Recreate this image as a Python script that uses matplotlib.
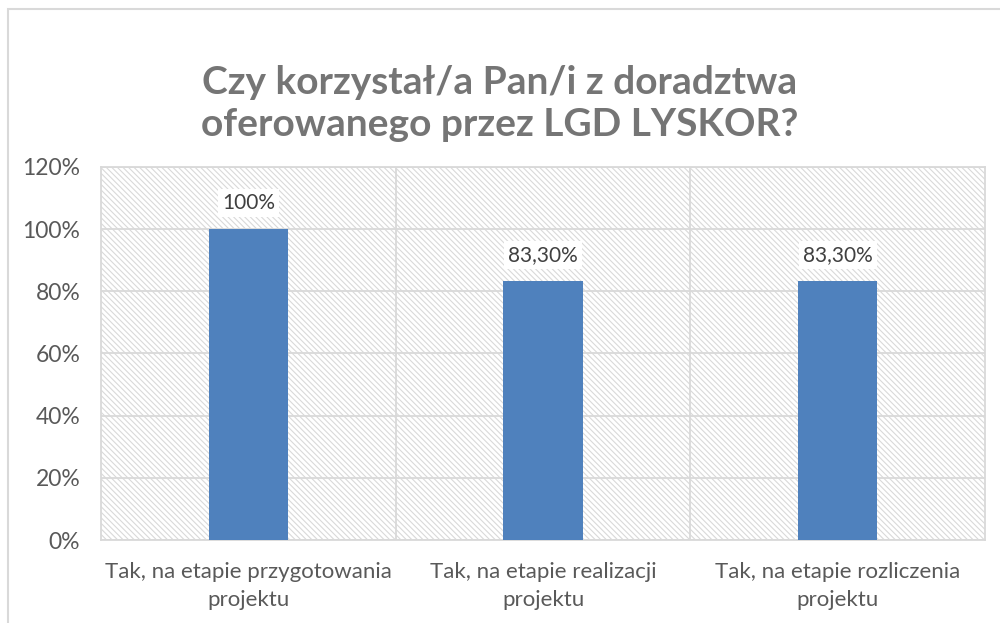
import matplotlib
matplotlib.use("Agg")
import matplotlib.pyplot as plt
from matplotlib.patches import Rectangle

categories = ["Tak, na etapie przygotowania\nprojektu",
              "Tak, na etapie realizacji\nprojektu",
              "Tak, na etapie rozliczenia\nprojektu"]
values = [100, 83.3, 83.3]
value_labels = ["100%", "83,30%", "83,30%"]
yticks = [0, 20, 40, 60, 80, 100, 120]
title = "Czy korzystał/a Pan/i z doradztwa\noferowanego przez LGD LYSKOR?"

plt.rcParams["font.family"] = ["Lato", "DejaVu Sans"]
plt.rcParams["hatch.color"] = "#dcdcdc"
plt.rcParams["hatch.linewidth"] = 0.8

grid_c = "#d9d9d9"
text_c = "#595959"

fig = plt.figure(figsize=(10, 6.23), dpi=100)
ax = fig.add_axes([0.101, 0.1332, 0.884, 0.5988])

# outer chart frame (cropped screenshot)
fig.patches.append(Rectangle((0.008, -0.1), 1.2, 0.1 + 0.9856, transform=fig.transFigure,
                             fill=False, edgecolor=grid_c, linewidth=1.5))

# hatched plot-area background
ax.add_patch(Rectangle((0, 0), 1, 1, transform=ax.transAxes, facecolor="white",
                       edgecolor=grid_c, hatch="\\" * 6, linewidth=0, zorder=0))

x = list(range(len(categories)))
bars = ax.bar(x, values, width=0.27, color="#4f81bd", zorder=3)

for b, lab in zip(bars, value_labels):
    ax.annotate(lab, (b.get_x() + b.get_width() / 2, b.get_height()),
                xytext=(0, 19), textcoords="offset points", ha="center", va="center",
                fontsize=15, color="#404040", zorder=4,
                bbox=dict(boxstyle="square,pad=0.2", facecolor="white", edgecolor="none"))

ax.set_xlim(-0.5, len(categories) - 0.5)
ax.set_ylim(0, 120)
ax.set_yticks(yticks)
ax.set_yticklabels([f"{v}%" for v in yticks])
ax.set_xticks(x)
ax.set_xticklabels(categories, linespacing=1.5)
ax.tick_params(axis="both", length=0, labelcolor=text_c)
ax.tick_params(axis="y", pad=15, labelsize=16.5)
ax.tick_params(axis="x", pad=16, labelsize=16)

for v in yticks:
    ax.axhline(v, color=grid_c, linewidth=1.3, zorder=1)
for b in [0.5, 1.5]:
    ax.axvline(b, color=grid_c, linewidth=1.3, zorder=1)
for s in ax.spines.values():
    s.set_color(grid_c)
    s.set_linewidth(1.3)

fig.text(0.5, 0.834, title, ha="center", va="center", fontsize=28, fontweight="bold",
         color="#757575", linespacing=1.25)

fig.savefig("out.png", dpi=100)
